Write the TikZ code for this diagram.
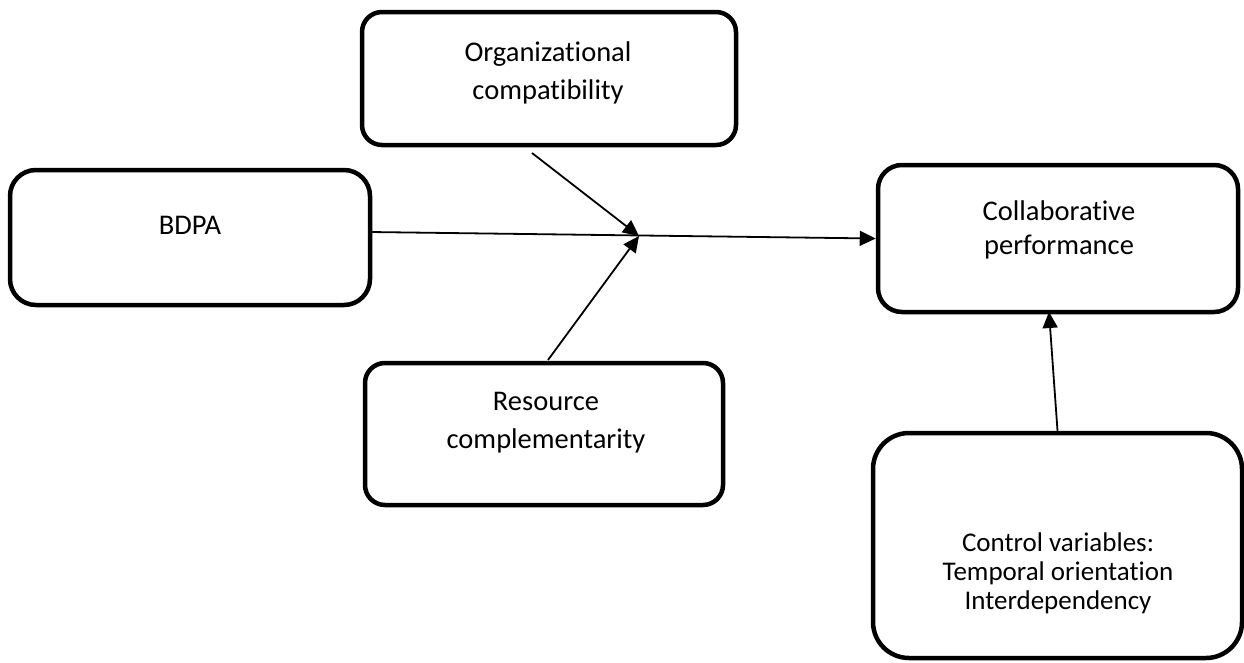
\documentclass[tikz,border=0pt]{standalone}
\usepackage{fontspec}
\setmainfont{Carlito}[Ligatures={NoCommon}]
\usetikzlibrary{arrows.meta}
\begin{document}
\begin{tikzpicture}[x=1pt,y=-1pt,
  box/.style={draw, line width=4.5pt, inner sep=0pt, rounded corners=#1},
  box/.default=20pt,
  lbl/.style={align=center, font=\fontsize{28.5}{38}\selectfont, inner sep=0pt},
  conn/.style={line width=1.8pt, -{Triangle[length=16pt,width=15pt]}}]
\useasboundingbox (0,0) rectangle (1244,662);

% boxes
\node[box=20pt, minimum width=374pt, minimum height=133pt] (org) at (549,78.5) {};
\node[box=26pt, minimum width=360pt, minimum height=135pt] (bdpa) at (190,237.5) {};
\node[box=20pt, minimum width=358pt, minimum height=142pt] (res) at (544,434) {};
\node[box=24pt, minimum width=360pt, minimum height=147pt] (collab) at (1058,238.5) {};
\node[box=36pt, minimum width=369pt, minimum height=225pt] (ctrl) at (1057.5,545.5) {};

% texts
\node[lbl] (orgt) at (548,73) {Organizational\\compatibility};
\node[lbl] (bdpat) at (190,225) {BDPA};
\node[lbl, font=\fontsize{28.5}{34}\selectfont] (collabt) at (1059,230) {Collaborative\\performance};
\node[lbl] (rest) at (546,423) {Resource\\complementarity};
\node[lbl, font=\fontsize{27}{29}\selectfont] (ctrlt) at (1058,573) {Control variables:\\Temporal orientation\\Interdependency};

% connector points
\coordinate (J) at (639,236);
\coordinate (os) at (532,153);
\coordinate (rs) at (548,360);
\coordinate (bs) at (370,232);
\coordinate (ce) at (1049,312);

% connectors
\draw[conn] (bs) -- (collab.west);
\draw[conn] (os) -- (J);
\draw[conn] (rs) -- (J);
\draw[conn] (ctrl.north) -- (ce);
\end{tikzpicture}
\end{document}
